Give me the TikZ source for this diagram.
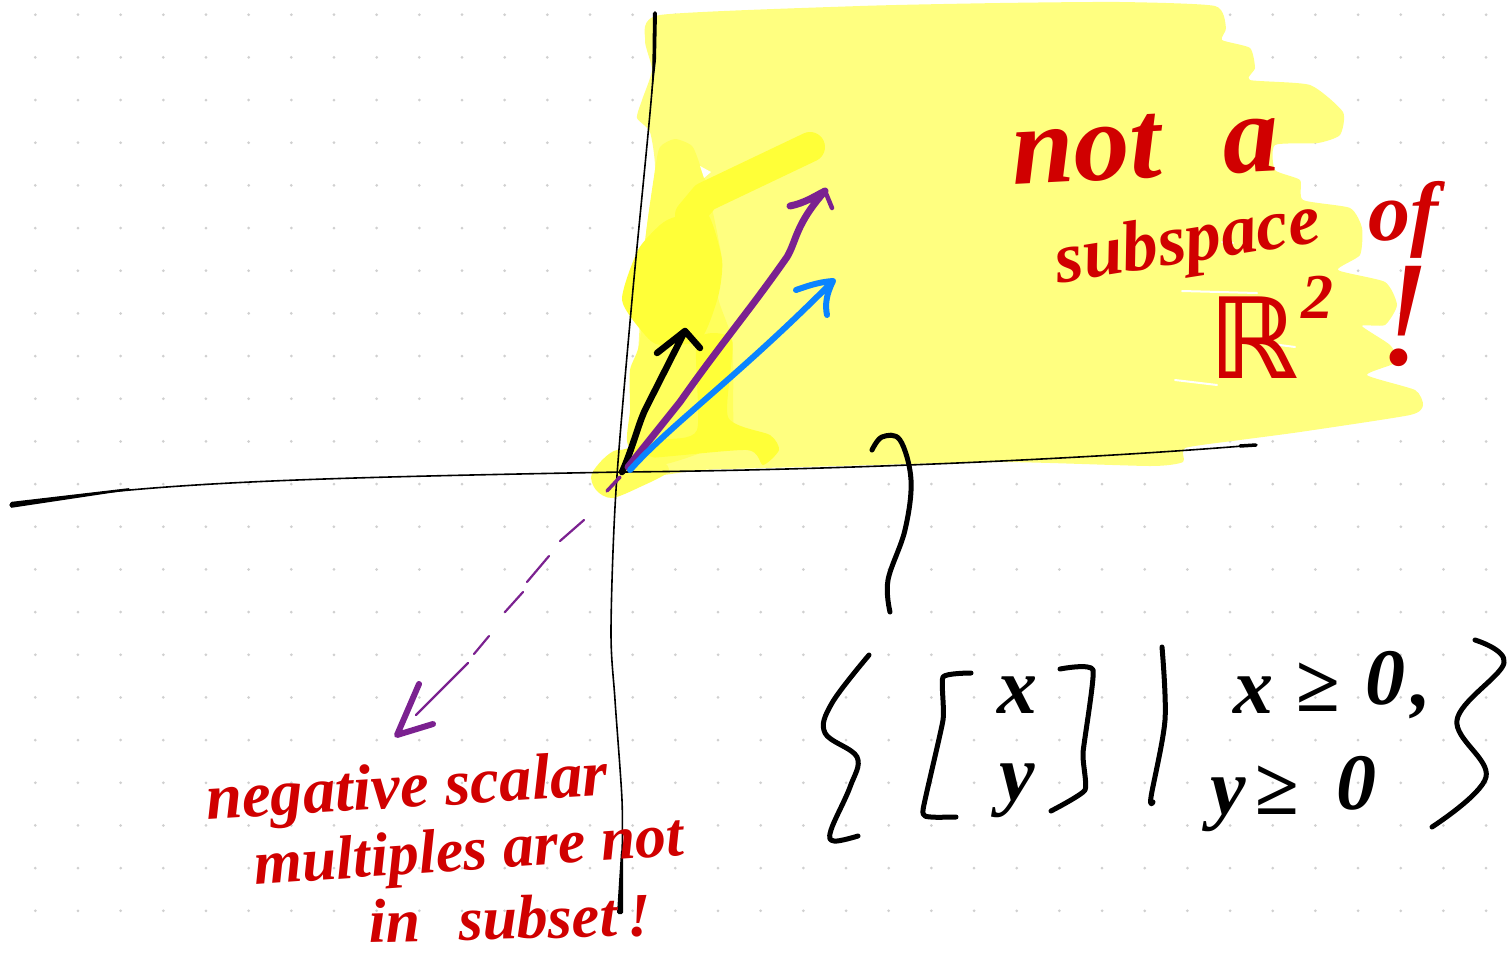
\documentclass[tikz,border=0pt]{standalone}
\usepackage{fontspec}
\setmainfont{Liberation Serif}
\newfontfamily\symfont{DejaVu Sans}
\usetikzlibrary{positioning}
\definecolor{marker}{HTML}{FFFF80}
\definecolor{markermid}{HTML}{FFFF5C}
\definecolor{markerdeep}{HTML}{FFFF38}
\definecolor{griddot}{HTML}{D0D0D0}
\definecolor{redink}{HTML}{D00000}
\definecolor{purpleink}{HTML}{7B2190}
\definecolor{blueink}{HTML}{0A84FF}
\newcommand{\handsize}[1]{\fontsize{#1}{#1}\selectfont}
\begin{document}
\begin{tikzpicture}[x=1pt,y=-1pt,
  pen/.style={line width=#1,line cap=round,line join=round},
  inkblack/.style={draw=black,pen=5pt},
  redhand/.style={text=redink,inner sep=0pt,font=\bfseries\itshape},
  blackhand/.style={text=black,inner sep=0pt,font=\bfseries\itshape\handsize{80}}]
\useasboundingbox (0,0) rectangle (1507,959);
\fill[white] (0,0) rectangle (1507,959);
\foreach \i in {0,...,34}
  \foreach \j in {0,...,21}
    \fill[griddot] ({35.3+42.67*\i},{14.7+42.67*\j}) circle (1.5pt);
\fill[marker] plot[smooth cycle,tension=.35] coordinates {(645,40) (660,15) (860,6) (1000,3) (1120,2) (1215,6) (1226,28) (1222,40) (1250,48) (1255,68) (1250,80) (1310,85) (1343,112) (1340,135) (1318,143) (1275,145) (1275,170) (1300,180) (1303,200) (1350,208) (1362,228) (1360,255) (1338,270) (1385,282) (1397,305) (1385,325) (1362,326) (1390,345) (1397,362) (1367,375) (1415,390) (1423,405) (1410,415) (1300,432) (1240,440) (1185,448) (1183,462) (1150,466) (1000,462) (800,467) (700,470) (650,475) (635,440) (635,407) (645,243) (655,170) (650,132) (637,118) (642,100) (652,70)};
\fill[markermid] plot[smooth cycle,tension=.4] coordinates {(655,170) (660,147) (675,139) (692,146) (700,165) (708,190) (722,260) (718,297) (732,340) (733,400) (728,440) (660,465) (628,445) (630,410) (630,370) (640,340) (645,243)};
\fill[markerdeep] plot[smooth cycle,tension=.4] coordinates {(675,217) (707,213) (722,260) (718,297) (700,340) (660,345) (645,335) (622,300) (638,250) (660,225)};
\fill[markerdeep] plot[smooth cycle,tension=.4] coordinates {(697,340) (732,340) (728,417) (770,435) (779,450) (763,465) (747,450) (647,458) (617,452) (660,440) (697,430)};
\draw[markerdeep,pen=30pt] (810,147) -- (705,197) -- (690,215);
\fill[markermid] plot[smooth cycle,tension=.5] coordinates {(592,473) (617,450) (660,460) (668,472) (640,487) (612,498) (596,490)};
\fill[white] (700,166) -- (711,172) -- (704,178) -- cycle;
\draw[white,pen=2pt] (1182,291) -- (1257,293) (1257,342) -- (1295,347) (1175,380) -- (1217,385) (1222,242) -- (1233,243);
\coordinate (origin) at (622,472);
\draw[black,pen=1.6pt] (10,505) .. controls (150,482) and (300,478) .. (origin) .. controls (850,470) and (1100,458) .. (1255,445);
\fill[black,rounded corners=1.5pt] (10,502) -- (130,488) -- (130,490) -- (10,508) -- cycle;
\draw[black,pen=3.5pt] (1240,446) -- (1256,445);
\draw[black,pen=1.6pt] plot[smooth,tension=.5] coordinates {(655,12) (652,90) (632,300) (616,490) (611,630) (615,700) (622,800) (622,860)};
\fill[black,rounded corners=1pt] (653,12) -- (657,12) -- (656,60) -- (652,95) -- cycle;
\fill[black,rounded corners=1.5pt] (621,850) -- (623,850) -- (623,914) -- (617,914) -- cycle;
\coordinate (blacktip) at (685,331);
\coordinate (purpletip) at (825,191);
\coordinate (bluetip) at (833,281);
\draw[black,pen=6.5pt] (origin) .. controls (632,450) and (638,425) .. (645,410) -- (blacktip) (657,353) -- (blacktip) -- (700,348);
\draw[purpleink,pen=7pt] (628,467) -- (680,402) .. controls (720,345) and (750,310) .. (787,257) .. controls (797,240) and (795,225) .. (purpletip) (790,206) .. controls (805,203) and (815,196) .. (purpletip);
\draw[purpleink,pen=4.5pt] (purpletip) -- (832,208);
\draw[purpleink,pen=3.5pt] (607,491) -- (620,477);
\draw[blueink,pen=6pt] (630,470) .. controls (670,425) and (740,375) .. (bluetip) (796,290) .. controls (810,285) and (820,282) .. (bluetip) .. controls (826,295) and (825,305) .. (827,315);
\draw[purpleink,pen=2.2pt] (584,520) -- (560,541) (549,556) -- (527,582) (523,592) -- (505,612) (489,636) -- (474,654) (468,663) -- (416,715);
\draw[purpleink,pen=6pt] (419,684) -- (397,735) -- (433,724);
\draw[inkblack] plot[smooth,tension=.6] coordinates {(872,450) (882,437) (900,440) (911,480) (905,530) (888,580) (890,612)};
\draw[inkblack] plot[smooth,tension=.6] coordinates {(869,655) (832,703) (825,733) (857,757) (850,787) (831,830) (834,841) (858,836)};
\draw[inkblack] plot[smooth,tension=.3] coordinates {(971,673) (943,677) (943,720) (923,810) (931,817) (956,817)};
\draw[inkblack] plot[smooth,tension=.3] coordinates {(1060,669) (1093,670) (1083,753) (1085,790) (1051,811)};
\draw[inkblack] plot[smooth,tension=.5] coordinates {(1162,647) (1165,720) (1151,797) (1153,802)};
\draw[inkblack] plot[smooth,tension=.6] coordinates {(1475,640) (1504,663) (1457,720) (1486,777) (1432,827)};
\node[blackhand] (xtop) at (1017,695) {x};
\node[blackhand,below=50pt of xtop] (ytop) {y};
\node[blackhand] (xrow) at (1253,695) {x};
\node[blackhand,right=22pt of xrow,yshift=8pt] (geqx) {≥};
\node[blackhand,right=26pt of geqx,yshift=9pt] (zerox) {0};
\node[blackhand,right=5pt of zerox,yshift=-29pt] (commax) {,};
\node[blackhand] (yrow) at (1228,805) {y};
\node[blackhand,right=8pt of yrow,yshift=15pt] (geqy) {≥};
\node[blackhand,right=38pt of geqy,yshift=7pt] (zeroy) {0};
\node[redhand,rotate=3,font=\bfseries\itshape\handsize{112}] (nota) at (1145,147) {not\hspace{62pt}a};
\node[redhand,rotate=9,font=\bfseries\itshape\handsize{72}] (subspace) at (1188,245) {subspace};
\node[redhand,font=\bfseries\itshape\handsize{84}] (of) at (1403,220) {of};
\node[redhand,font=\bfseries\handsize{112}\symfont] (reals) at (1253,338) {ℝ};
\node[redhand,font=\bfseries\itshape\handsize{64},right=3pt of reals,yshift=41pt] (power) {2};
\node[redhand,font=\itshape\handsize{150}] (bang) at (1403,316) {!};
\node[redhand,rotate=3.5,font=\bfseries\itshape\handsize{65}] (negative) at (407,792) {negative scalar};
\node[redhand,rotate=4,font=\bfseries\itshape\handsize{62}] (multiples) at (469,855) {multiples are not};
\node[redhand,rotate=1.5,font=\bfseries\itshape\handsize{62}] (insubset) at (510,918) {in\hspace{38pt}subset\hspace{10pt}!};
\end{tikzpicture}
\end{document}
